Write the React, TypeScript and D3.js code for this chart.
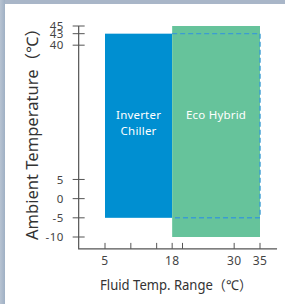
import { useEffect, useRef } from 'react';
import * as d3 from 'd3';

// operating envelopes: fluid temp range (x) / ambient temp range (y)
const products = ['Inverter\nChiller', 'Eco Hybrid'];
const fluidRanges: [number, number][] = [
  [5, 18],
  [18, 35],
];
const ambientRanges: [number, number][] = [
  [-5, 43],
  [-10, 45],
];
const productColors = ['#008fd1', '#66c39b'];

// inverter chiller ambient range drawn over the eco hybrid fluid range
const dashedFluid: [number, number] = [18, 35];
const dashedAmbient: [number, number] = [-5, 43];

const xTicks = [5, 10, 15, 18, 20, 30, 35];
const xTickLabels = [5, 18, 30, 35];
const yTicks = [45, 43, 40, 5, 0, -5, -10];

const W = 285;
const H = 304;
const font = '"Noto Sans", "Noto Sans CJK JP", sans-serif';

export default function App() {
  const svgRef = useRef<SVGSVGElement>(null);

  useEffect(() => {
    if (!svgRef.current) return;
    const svg = d3.select(svgRef.current);
    svg.selectAll('*').remove();

    // page frame
    const defs = svg.append('defs');
    const gl = defs.append('linearGradient').attr('id', 'leftFrame').attr('x1', 0).attr('x2', 1);
    gl.append('stop').attr('offset', '0%').attr('stop-color', '#b7c3d2');
    gl.append('stop').attr('offset', '100%').attr('stop-color', '#9fb0c4');
    svg.append('rect').attr('width', W).attr('height', H).attr('fill', '#fff');
    svg.append('rect').attr('x', 0).attr('y', 0).attr('width', W).attr('height', 4).attr('fill', '#a9b6c8');
    svg.append('rect').attr('x', 0).attr('y', 0).attr('width', 5).attr('height', H).attr('fill', 'url(#leftFrame)');

    const x = d3.scaleLinear().domain([5, 35]).range([105, 260]);
    const y = d3.scaleLinear().domain([-10, 45]).range([237, 26]);
    const x0 = x(0) - 0.5;
    const x1 = x(38.3);
    const yBottom = y(-13.1);
    const axisColor = '#555';

    // range boxes
    svg
      .selectAll('rect.range')
      .data(products)
      .enter()
      .append('rect')
      .attr('class', 'range')
      .attr('x', (_, i) => x(fluidRanges[i][0]))
      .attr('width', (_, i) => x(fluidRanges[i][1]) - x(fluidRanges[i][0]))
      .attr('y', (_, i) => y(ambientRanges[i][1]))
      .attr('height', (_, i) => y(ambientRanges[i][0]) - y(ambientRanges[i][1]))
      .attr('fill', (_, i) => productColors[i]);

    // dashed envelope
    svg
      .append('path')
      .attr(
        'd',
        `M${x(dashedFluid[0])},${y(dashedAmbient[1])}H${x(dashedFluid[1])}V${y(dashedAmbient[0])}H${x(dashedFluid[0])}`
      )
      .attr('fill', 'none')
      .attr('stroke', '#3b9cd2')
      .attr('stroke-width', 1.4)
      .attr('stroke-dasharray', '5,3');

    // labels inside boxes
    products.forEach((p, i) => {
      const cx = (x(fluidRanges[i][0]) + x(fluidRanges[i][1])) / 2;
      p.split('\n').forEach((line, j) => {
        svg
          .append('text')
          .attr('x', cx)
          .attr('y', 119 + j * 15.5)
          .attr('text-anchor', 'middle')
          .attr('fill', '#fff')
          .style('font-family', font)
          .style('font-size', '11.5px')
          .style('letter-spacing', '0.2px')
          .text(line);
      });
    });

    // axes
    svg
      .append('path')
      .attr('d', `M${x0},${y(45)}V${yBottom}H${x1}`)
      .attr('fill', 'none')
      .attr('stroke', axisColor)
      .attr('stroke-width', 1.2);

    svg
      .selectAll('line.ytick')
      .data(yTicks)
      .enter()
      .append('line')
      .attr('x1', x0 - 6)
      .attr('x2', x0 + 6)
      .attr('y1', (d) => y(d))
      .attr('y2', (d) => y(d))
      .attr('stroke', axisColor)
      .attr('stroke-width', 1);

    svg
      .selectAll('text.ylab')
      .data(yTicks)
      .enter()
      .append('text')
      .attr('x', x0 - 15)
      .attr('y', (d) => y(d))
      .attr('dy', '0.36em')
      .attr('text-anchor', 'end')
      .attr('fill', '#444')
      .style('font-family', font)
      .style('font-size', '11.5px')
      .style('letter-spacing', '0.4px')
      .text((d) => String(d));

    svg
      .selectAll('line.xtick')
      .data(xTicks)
      .enter()
      .append('line')
      .attr('x1', (d) => x(d))
      .attr('x2', (d) => x(d))
      .attr('y1', yBottom)
      .attr('y2', yBottom - 6)
      .attr('stroke', axisColor)
      .attr('stroke-width', 1);

    svg
      .selectAll('text.xlab')
      .data(xTickLabels)
      .enter()
      .append('text')
      .attr('x', (d) => x(d))
      .attr('y', yBottom + 16)
      .attr('text-anchor', 'middle')
      .attr('fill', '#444')
      .style('font-family', font)
      .style('font-size', '12px')
      .style('letter-spacing', '0.4px')
      .text((d) => String(d));

    svg
      .append('text')
      .attr('x', 176)
      .attr('y', 290)
      .attr('text-anchor', 'middle')
      .attr('fill', '#333')
      .attr('textLength', 152)
      .attr('lengthAdjust', 'spacingAndGlyphs')
      .style('font-family', font)
      .style('font-size', '13.5px')
      .text('Fluid Temp. Range（℃）');

    svg
      .append('text')
      .attr('transform', `translate(38,130) rotate(-90)`)
      .attr('text-anchor', 'middle')
      .attr('fill', '#333')
      .attr('textLength', 220)
      .attr('lengthAdjust', 'spacingAndGlyphs')
      .style('font-family', font)
      .style('font-size', '16px')
      .text('Ambient Temperature（℃）');
  }, []);

  return (
    <svg
      ref={svgRef}
      width={W}
      height={H}
      style={{ position: 'fixed', left: 0, top: 0, display: 'block' }}
    />
  );
}
